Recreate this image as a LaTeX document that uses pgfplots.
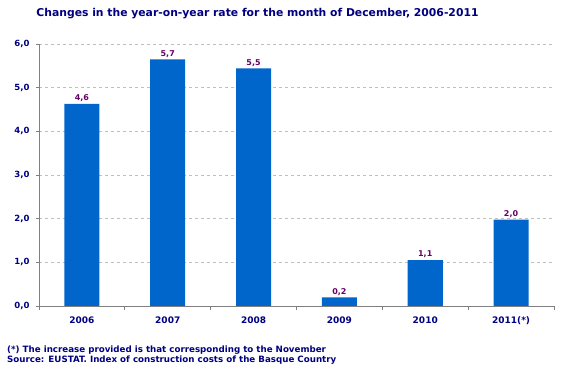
\documentclass[border=0pt]{standalone}
\usepackage{pgfplots}
\pgfplotsset{compat=1.18}
\usepackage{fontspec}
\setmainfont{DejaVu Sans}
\definecolor{barblue}{HTML}{0066CC}
\definecolor{lblpurple}{HTML}{660066}
\definecolor{navy}{HTML}{000080}
\begin{document}
\begin{tikzpicture}
\path (-39pt,-65pt) rectangle (528pt,306pt);
\begin{axis}[
  at={(0pt,0pt)}, anchor=south west,
  scale only axis, width=515pt, height=262pt,
  ymin=0, ymax=6, ytick={0,1,...,6},
  xmin=-0.5, xmax=5.5,
  xtick={0,...,5},
  xticklabels={2006,2007,2008,2009,2010,2011(*)},
  minor xtick={-0.5,0.5,...,5.5},
  major x tick style={draw=none},
  minor x tick style={draw=gray, thick},
  minor tick length=4pt,
  major tick length=3pt,
  tick align=outside,
  axis x line*=bottom, axis y line*=left,
  axis line style={gray, thick},
  y tick style={gray, thick},
  ymajorgrids, grid style={dashed, gray!50, thick},
  yticklabel style={/pgf/number format/fixed, /pgf/number format/fixed zerofill, /pgf/number format/precision=1, /pgf/number format/use comma, /pgf/number format/assume math mode=true, font=\bfseries\fontsize{8.5}{9}\selectfont, text=navy, xshift=-3pt},
  xticklabel style={font=\bfseries\fontsize{9}{10}\selectfont, text=navy, yshift=-4pt},
  ybar, bar width=35pt,
  nodes near coords,
  point meta=explicit symbolic,
  every node near coord/.append style={font=\bfseries\fontsize{8}{9}\selectfont, text=lblpurple, yshift=-1.5pt},
  clip=false,
]
\addplot[fill=barblue, draw=none] table[meta=lbl] {
x y lbl
0 4.63 {4,6}
1 5.65 {5,7}
2 5.44 {5,5}
3 0.20 {0,2}
4 1.05 {1,1}
5 1.98 {2,0}
};
\end{axis}
\node[anchor=base, inner sep=0pt, text=navy, font=\bfseries\fontsize{10.8}{12}\selectfont] at (218.5pt,289pt) {Changes in the year-on-year rate for the month of December, 2006-2011};
\node[anchor=base west, inner sep=0pt, text=navy, font=\bfseries\fontsize{8.7}{10}\selectfont] at (-32pt,-47pt) {(*) The increase provided is that corresponding to the November};
\node[anchor=base west, inner sep=0pt, text=navy, font=\bfseries\fontsize{8.7}{10}\selectfont] at (-32pt,-57pt) {Source: EUSTAT. Index of construction costs of the Basque Country};
\end{tikzpicture}
\end{document}
